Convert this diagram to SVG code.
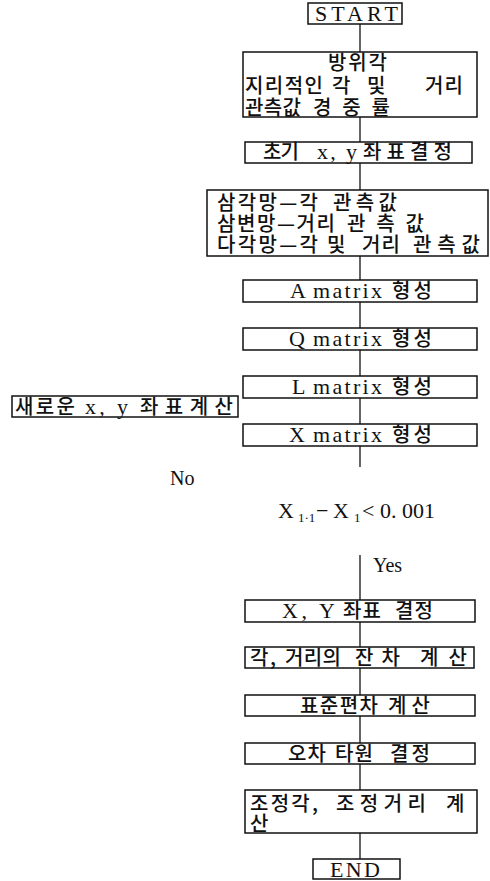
<svg xmlns="http://www.w3.org/2000/svg" width="490" height="881" viewBox="0 0 490 881">
  <style>
    .box { fill: none; stroke: #111; stroke-width: 1.5; }
    .wire { stroke: #111; stroke-width: 1.3; fill: none; }
    .ko { font-family: "Noto Sans CJK KR", "Noto Sans", sans-serif; font-size: 20px; font-weight: 500; fill: #111; }
    .en { font-family: "Liberation Serif", serif; font-size: 22px; fill: #111; }
    .lbl { font-family: "Liberation Serif", serif; font-size: 20px; fill: #111; }
    .sub { font-family: "Liberation Serif", serif; font-size: 13px; fill: #111; }
  </style>

  <!-- vertical flow lines -->
  <g id="connectors">
    <line class="wire" x1="360" y1="24" x2="360" y2="52"/>
    <line class="wire" x1="360" y1="117" x2="360" y2="142"/>
    <line class="wire" x1="360" y1="163" x2="360" y2="190"/>
    <line class="wire" x1="360" y1="256" x2="360" y2="280"/>
    <line class="wire" x1="360" y1="302" x2="360" y2="328"/>
    <line class="wire" x1="360" y1="350" x2="360" y2="376"/>
    <line class="wire" x1="360" y1="398" x2="360" y2="424"/>
    <line class="wire" x1="360" y1="446" x2="360" y2="467"/>
    <line class="wire" x1="360" y1="555" x2="360" y2="600"/>
    <line class="wire" x1="360" y1="622" x2="360" y2="647"/>
    <line class="wire" x1="360" y1="668" x2="360" y2="695"/>
    <line class="wire" x1="360" y1="716" x2="360" y2="743"/>
    <line class="wire" x1="360" y1="764" x2="360" y2="790"/>
    <line class="wire" x1="360" y1="833" x2="360" y2="859"/>
  </g>

  <g id="start">
    <rect class="box" x="308" y="3" width="94" height="21"/>
    <text class="en" x="315" y="21" textLength="83" lengthAdjust="spacing">START</text>
  </g>

  <g id="inputs">
    <rect class="box" x="243" y="52" width="234" height="65"/>
    <text class="ko" x="328" y="70" textLength="59" lengthAdjust="spacing">방위각</text>
    <text class="ko" x="245" y="93" textLength="78" lengthAdjust="spacing">지리적인</text>
    <text class="ko" x="332" y="93">각</text>
    <text class="ko" x="367" y="93">및</text>
    <text class="ko" x="425" y="93" textLength="38" lengthAdjust="spacing">거리</text>
    <text class="ko" x="245" y="115" textLength="56" lengthAdjust="spacing">관측값</text>
    <text class="ko" x="313" y="115" textLength="77" lengthAdjust="spacing">경중률</text>
  </g>

  <g id="initial-coords">
    <rect class="box" x="245" y="142" width="227" height="21"/>
    <text class="ko" x="263" y="159" textLength="36" lengthAdjust="spacing">초기</text>
    <text class="en" x="317" y="159" textLength="40" lengthAdjust="spacing">x, y</text>
    <text class="ko" x="363" y="159" textLength="89" lengthAdjust="spacing">좌표결정</text>
  </g>

  <g id="networks">
    <rect class="box" x="207" y="190" width="281" height="66"/>
    <text class="ko" x="217" y="210" textLength="101" lengthAdjust="spacing">삼각망—각</text>
    <text class="ko" x="333" y="210" textLength="64" lengthAdjust="spacing">관측값</text>
    <text class="ko" x="217" y="231" textLength="118" lengthAdjust="spacing">삼변망—거리</text>
    <text class="ko" x="347" y="231" textLength="77" lengthAdjust="spacing">관측값</text>
    <text class="ko" x="217" y="252" textLength="101" lengthAdjust="spacing">다각망—각</text>
    <text class="ko" x="327" y="252">및</text>
    <text class="ko" x="362" y="252" textLength="38" lengthAdjust="spacing">거리</text>
    <text class="ko" x="413" y="252" textLength="67" lengthAdjust="spacing">관측값</text>
  </g>

  <g id="a-matrix">
    <rect class="box" x="243" y="280" width="234" height="22"/>
    <text class="en" x="290" y="298">A</text>
    <text class="en" x="313" y="298" textLength="69" lengthAdjust="spacing">matrix</text>
    <text class="ko" x="392" y="298" textLength="40" lengthAdjust="spacing">형성</text>
  </g>

  <g id="q-matrix">
    <rect class="box" x="243" y="328" width="234" height="22"/>
    <text class="en" x="289" y="346">Q</text>
    <text class="en" x="313" y="346" textLength="69" lengthAdjust="spacing">matrix</text>
    <text class="ko" x="392" y="346" textLength="40" lengthAdjust="spacing">형성</text>
  </g>

  <g id="l-matrix">
    <rect class="box" x="243" y="376" width="234" height="22"/>
    <text class="en" x="292" y="394">L</text>
    <text class="en" x="313" y="394" textLength="69" lengthAdjust="spacing">matrix</text>
    <text class="ko" x="392" y="394" textLength="40" lengthAdjust="spacing">형성</text>
  </g>

  <g id="new-coords">
    <rect class="box" x="12" y="396" width="226" height="21"/>
    <text class="ko" x="15" y="414" textLength="60" lengthAdjust="spacing">새로운</text>
    <text class="en" x="85" y="414" textLength="43" lengthAdjust="spacing">x, y</text>
    <text class="ko" x="140" y="414" textLength="93" lengthAdjust="spacing">좌표계산</text>
  </g>

  <g id="x-matrix">
    <rect class="box" x="243" y="424" width="234" height="22"/>
    <text class="en" x="289" y="442">X</text>
    <text class="en" x="313" y="442" textLength="69" lengthAdjust="spacing">matrix</text>
    <text class="ko" x="392" y="442" textLength="40" lengthAdjust="spacing">형성</text>
  </g>

  <g id="convergence-test">
    <text class="lbl" x="170" y="485">No</text>
    <text class="en" x="278" y="518">X</text>
    <text class="sub" x="298" y="522">1·1</text>
    <text class="en" x="316" y="518">−</text>
    <text class="en" x="333" y="518">X</text>
    <text class="sub" x="354" y="522">1</text>
    <text class="en" x="362" y="518">&lt;</text>
    <text class="en" x="380" y="518" textLength="55" lengthAdjust="spacing">0. 001</text>
    <text class="lbl" x="373" y="572">Yes</text>
  </g>

  <g id="final-coords">
    <rect class="box" x="245" y="600" width="230" height="22"/>
    <text class="en" x="282" y="618" textLength="53" lengthAdjust="spacing">X, Y</text>
    <text class="ko" x="343" y="618" textLength="38" lengthAdjust="spacing">좌표</text>
    <text class="ko" x="395" y="618" textLength="38" lengthAdjust="spacing">결정</text>
  </g>

  <g id="residuals">
    <rect class="box" x="245" y="647" width="229" height="21"/>
    <text class="ko" x="250" y="665" textLength="26" lengthAdjust="spacing">각,</text>
    <text class="ko" x="285" y="665" textLength="56" lengthAdjust="spacing">거리의</text>
    <text class="ko" x="355" y="665" textLength="45" lengthAdjust="spacing">잔차</text>
    <text class="ko" x="420" y="665" textLength="47" lengthAdjust="spacing">계산</text>
  </g>

  <g id="std-dev">
    <rect class="box" x="245" y="695" width="230" height="21"/>
    <text class="ko" x="300" y="713" textLength="78" lengthAdjust="spacing">표준편차</text>
    <text class="ko" x="388" y="713" textLength="42" lengthAdjust="spacing">계산</text>
  </g>

  <g id="error-ellipse">
    <rect class="box" x="245" y="743" width="230" height="21"/>
    <text class="ko" x="288" y="761" textLength="38" lengthAdjust="spacing">오차</text>
    <text class="ko" x="335" y="761" textLength="38" lengthAdjust="spacing">타원</text>
    <text class="ko" x="390" y="761" textLength="40" lengthAdjust="spacing">결정</text>
  </g>

  <g id="adjusted">
    <rect class="box" x="245" y="790" width="232" height="43"/>
    <text class="ko" x="250" y="811" textLength="68" lengthAdjust="spacing">조정각,</text>
    <text class="ko" x="336" y="811" textLength="90" lengthAdjust="spacing">조정거리</text>
    <text class="ko" x="446" y="811">계</text>
    <text class="ko" x="250" y="831">산</text>
  </g>

  <g id="end">
    <rect class="box" x="313" y="859" width="87" height="20"/>
    <text class="en" x="330" y="877" textLength="50" lengthAdjust="spacing">END</text>
  </g>
</svg>
